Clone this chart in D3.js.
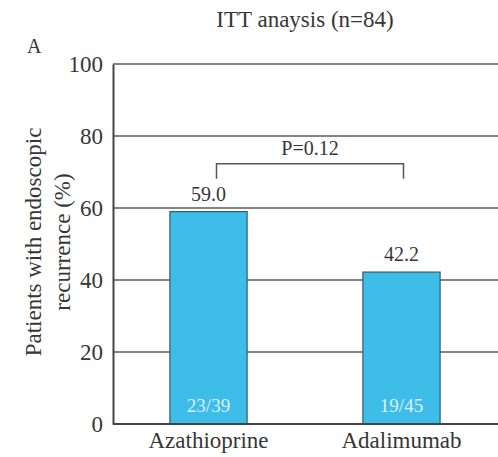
<!DOCTYPE html>
<html>
<head>
<meta charset="utf-8">
<script src="https://cdn.jsdelivr.net/npm/d3@7"></script>
<style>
  html, body { margin: 0; padding: 0; background: #fff; }
</style>
</head>
<body>
<svg id="chart" width="498" height="457"></svg>
<script>
// Endoscopic recurrence by treatment arm (ITT)
const categories = ["Azathioprine", "Adalimumab"];
const values = [59.0, 42.2];
const counts = ["23/39", "19/45"];
const yTicks = [0, 20, 40, 60, 80, 100];
const pLabel = "P=0.12";

const FONT = '"Liberation Serif", "Times New Roman", serif';
const INK = "#363636";

const svg = d3.select("#chart");
const W = 498, H = 457;
const margin = { left: 113, top: 64, bottom: 33 };

const x = d3.scaleBand()
  .domain(categories)
  .range([112, 498])
  .paddingInner(0.6)
  .paddingOuter(0.3);

const y = d3.scaleLinear()
  .domain([0, 100])
  .range([H - margin.bottom, margin.top]);

function txt(sel, size, color) {
  return sel.style("font-family", FONT)
    .style("font-size", size + "px")
    .style("fill", color || INK);
}

// Horizontal gridlines
svg.append("g")
  .selectAll("line")
  .data(yTicks.filter(d => d > 0))
  .join("line")
  .attr("x1", margin.left)
  .attr("x2", W)
  .attr("y1", d => y(d))
  .attr("y2", d => y(d))
  .attr("stroke", "#5a5a5a")
  .attr("stroke-width", 1.5);

// Bars
svg.append("g")
  .selectAll("rect")
  .data(values)
  .join("rect")
  .attr("x", (d, i) => x(categories[i]))
  .attr("y", d => y(d))
  .attr("width", x.bandwidth())
  .attr("height", d => y(0) - y(d))
  .attr("fill", "#3fbde9")
  .attr("stroke", "#2b5f75")
  .attr("stroke-width", 1.2);

// Y axis
const gy = svg.append("g")
  .attr("transform", `translate(${margin.left},0)`)
  .call(d3.axisLeft(y).tickValues(yTicks).tickFormat(d3.format("d")).tickSize(0).tickPadding(10));
gy.select(".domain").attr("stroke", "#444").attr("stroke-width", 2);
txt(gy.selectAll(".tick text"), 23);

// X axis
const gx = svg.append("g")
  .attr("transform", `translate(0,${y(0)})`)
  .call(d3.axisBottom(x).tickSize(0).tickPadding(8));
gx.select(".domain").attr("stroke", "#444").attr("stroke-width", 2)
  .attr("d", `M${margin.left},0H${W}`);
txt(gx.selectAll(".tick text"), 23);

// Value labels above bars
txt(svg.append("g")
  .selectAll("text")
  .data(values)
  .join("text")
  .attr("x", (d, i) => x(categories[i]) + x.bandwidth() / 2)
  .attr("y", d => y(d) - 11)
  .attr("text-anchor", "middle")
  .text(d => d.toFixed(1)), 20);

// Counts inside bars
txt(svg.append("g")
  .selectAll("text")
  .data(counts)
  .join("text")
  .attr("x", (d, i) => x(categories[i]) + x.bandwidth() / 2)
  .attr("y", y(0) - 12)
  .attr("text-anchor", "middle")
  .text(d => d), 19, "#d9f1fb");

// Significance bracket
const bx1 = x(categories[0]) + x.bandwidth() / 2 + 8;
const bx2 = x(categories[1]) + x.bandwidth() / 2 + 2;
const by = y(72.3);
svg.append("path")
  .attr("d", `M${bx1},${by + 15}V${by}H${bx2}V${by + 15}`)
  .attr("fill", "none")
  .attr("stroke", "#555")
  .attr("stroke-width", 1.5);
txt(svg.append("text")
  .attr("x", (bx1 + bx2) / 2)
  .attr("y", by - 9)
  .attr("text-anchor", "middle")
  .text(pLabel), 20);

// Y axis title
const yMid = (y(0) + y(100)) / 2 - 2;
txt(svg.append("text")
  .attr("transform", `translate(41,${yMid}) rotate(-90)`)
  .attr("text-anchor", "middle")
  .text("Patients with endoscopic"), 23);
txt(svg.append("text")
  .attr("transform", `translate(70,${yMid}) rotate(-90)`)
  .attr("text-anchor", "middle")
  .text("recurrence (%)"), 23);

// Chart title and panel letter
txt(svg.append("text")
  .attr("x", 305)
  .attr("y", 27)
  .attr("text-anchor", "middle")
  .text("ITT anaysis (n=84)"), 23);
txt(svg.append("text")
  .attr("x", 27)
  .attr("y", 53)
  .text("A"), 20);
</script>
</body>
</html>
